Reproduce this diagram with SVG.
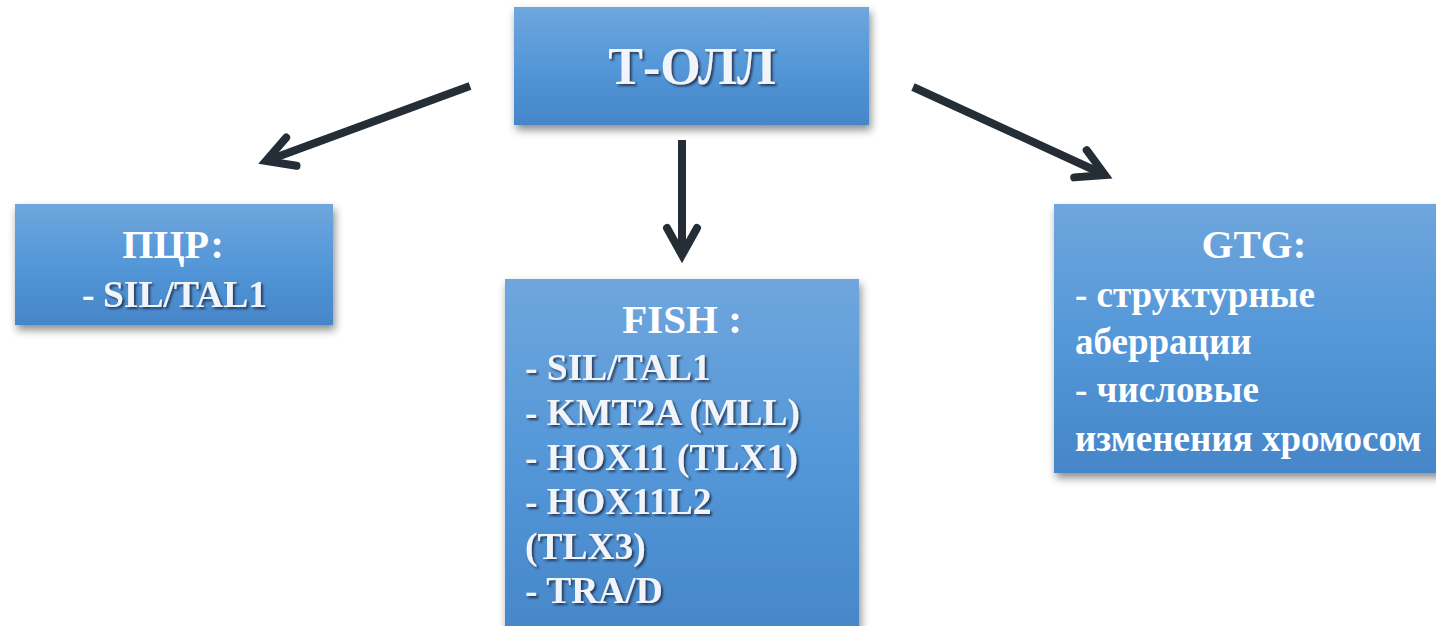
<svg xmlns="http://www.w3.org/2000/svg" width="1436" height="626" viewBox="0 0 1436 626">
  <defs>
    <linearGradient id="boxGrad" x1="0" y1="0" x2="0" y2="1">
      <stop offset="0" stop-color="#6fa6dd"/>
      <stop offset="0.5" stop-color="#5497d8"/>
      <stop offset="1" stop-color="#4586c9"/>
    </linearGradient>
    <filter id="boxShadow" x="-10%" y="-10%" width="125%" height="130%">
      <feDropShadow dx="2" dy="5" stdDeviation="4" flood-color="#000" flood-opacity="0.45"/>
    </filter>
    <filter id="emboss" x="-5%" y="-20%" width="115%" height="150%">
      <feDropShadow dx="2" dy="2" stdDeviation="1.3" flood-color="#1c2c44" flood-opacity="0.85"/>
    </filter>
    <marker id="chev" markerUnits="userSpaceOnUse" markerWidth="60" markerHeight="60" viewBox="-40 -30 60 60" refX="0" refY="0" orient="auto">
      <path d="M-27,-15 L0,0 L-27,15" fill="none" stroke="#252d36" stroke-width="8" stroke-linecap="round" stroke-linejoin="miter"/>
    </marker>
  </defs>
  <style>
    .box { fill: url(#boxGrad); filter: url(#boxShadow); }
    .t { font-family: "Liberation Serif", "Times New Roman", serif; font-weight: bold; fill: #ffffff; }
    .h { font-size: 41px; text-anchor: middle; }
    .sub { font-size: 37.5px; fill: #f1f4f8; filter: url(#emboss); }
    .ln { font-size: 37px; }
    .conn { stroke: #252d36; stroke-width: 8; fill: none; marker-end: url(#chev); }
  </style>

  <g id="connectors">
    <line class="conn" x1="470" y1="86" x2="266" y2="161"/>
    <line class="conn" x1="682" y1="140" x2="682" y2="255"/>
    <line class="conn" x1="913" y1="87" x2="1105" y2="175"/>
  </g>

  <g id="node-toll">
    <rect class="box" x="514" y="7" width="355" height="118"/>
    <text class="t sub" x="692" y="84" text-anchor="middle" style="font-size:52px">Т-ОЛЛ</text>
  </g>

  <g id="node-pcr">
    <rect class="box" x="15" y="204" width="318" height="121"/>
    <text class="t h" x="173" y="258" style="font-size:40px">ПЦР:</text>
    <text class="t" x="82" y="307" style="font-size:37.5px">-</text>
    <text class="t sub" x="103" y="307">SIL/TAL1</text>
  </g>

  <g id="node-fish">
    <rect class="box" x="505" y="279" width="354" height="360"/>
    <text class="t h" x="682" y="333">FISH :</text>
    <text class="t sub" x="525" y="380">- SIL/TAL1</text>
    <text class="t sub" x="525" y="425">- KMT2A (MLL)</text>
    <text class="t sub" x="525" y="470">- HOX11 (TLX1)</text>
    <text class="t sub" x="525" y="514">- HOX11L2</text>
    <text class="t sub" x="525" y="559">(TLX3)</text>
    <text class="t sub" x="525" y="603">- TRA/D</text>
  </g>

  <g id="node-gtg">
    <rect class="box" x="1054" y="204" width="402" height="269"/>
    <text class="t h" x="1254" y="258">GTG:</text>
    <text class="t ln" x="1075" y="307">- структурные</text>
    <text class="t ln" x="1075" y="354">аберрации</text>
    <text class="t ln" x="1075" y="402">- числовые</text>
    <text class="t ln" x="1075" y="451">изменения хромосом</text>
  </g>
</svg>
